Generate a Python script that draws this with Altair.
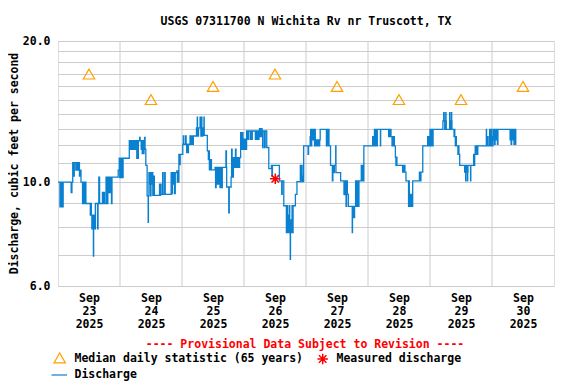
import altair as alt
import pandas as pd

FONT = "DejaVu Sans Mono"
TITLE = "USGS 07311700 N Wichita Rv nr Truscott, TX"
Y_TITLE = "Discharge, cubic feet per second"
NOTE = "---- Provisional Data Subject to Revision ----"
LEG_MEDIAN = "Median daily statistic (65 years)"
LEG_MEASURED = "Measured discharge"
LEG_DISCHARGE = "Discharge"

BLUE = "#0a80d0"
ORANGE = "#ffa000"
RED = "#ff0000"
GRID = "#cccccc"

# hours since 2025-09-23 00:00 (local) at which the 15-min discharge changes level
hours = [
    0.0, 0.75, 1.0, 1.5, 2.0, 5.1, 5.4, 5.7, 6.0, 6.3, 6.9, 7.1, 7.4, 7.6, 7.9, 8.1, 8.3, 8.5, 8.9,
    9.5, 9.8, 10.1, 10.4, 10.8, 12.5, 12.7, 12.9, 13.1, 13.3, 13.5, 13.7, 13.8, 14.0, 14.2, 14.45,
    15.3, 15.5, 15.8, 16.1, 17.2, 17.4, 17.8, 18.0, 18.6, 18.8, 19.3, 19.5, 19.7, 19.9, 20.1, 20.3,
    20.5, 20.7, 20.9, 23.3, 23.7, 23.9, 24.1, 24.3, 24.6, 25.0, 25.2, 27.6, 27.8, 28.0, 28.2, 28.4,
    28.6, 29.0, 29.3, 29.6, 29.8, 30.3, 30.5, 30.7, 30.9, 31.1, 31.6, 31.8, 32.2, 32.4, 32.6, 32.8,
    33.0, 33.3, 33.5, 33.7, 34.0, 34.5, 34.9, 35.0, 35.2, 35.4, 35.6, 35.8, 36.0, 36.2, 36.5, 36.7,
    37.1, 37.3, 39.3, 39.5, 39.7, 39.9, 40.5, 40.7, 41.3, 41.5, 43.8, 44.0, 44.3, 44.6, 44.8, 45.1,
    45.4, 46.0, 46.2, 46.4, 46.6, 46.8, 47.1, 47.3,
    48.3, 48.5, 48.7, 49.4, 49.6, 49.8, 50.0, 50.2, 50.5, 51.1, 51.3, 51.7, 51.9, 52.4, 53.6, 53.8,
    53.9, 54.0, 54.2, 54.4, 55.0, 55.1, 55.3, 55.5, 55.6, 55.7, 55.9, 56.1, 56.4, 56.5, 56.6, 57.8,
    58.2, 58.4, 58.6, 58.8, 59.0, 59.2, 59.4, 60.8, 61.0, 61.2, 61.7, 61.9, 62.1, 62.3, 62.7, 62.9,
    63.4, 63.6, 65.0, 65.2, 65.3, 66.1, 66.3, 67.0, 67.2, 67.4, 67.9, 68.1, 68.3, 68.5, 68.7, 68.9,
    69.1, 69.4, 69.7, 70.0, 70.3, 70.7, 70.9, 71.1, 71.4, 71.6, 71.8, 72.0, 72.2, 72.4,
    72.6, 72.8, 73.0, 73.2, 73.5, 73.6, 73.8, 74.5, 74.8, 75.0, 75.2, 76.4, 76.6, 77.0, 77.2, 77.7,
    77.8, 78.0, 78.2, 78.4, 78.6, 78.8, 79.0, 79.2, 79.4, 80.0, 80.2, 80.8, 81.6, 82.6, 82.8, 83.0,
    85.7, 86.6, 86.8, 87.4, 88.4, 88.6, 88.8, 89.0, 89.2, 89.5, 89.7, 89.9, 90.0, 90.2, 90.4, 90.6,
    90.8, 91.0, 91.9, 92.5, 93.8, 94.0, 94.3, 94.5, 94.8, 95.1,
    96.8, 97.0, 97.6, 97.8, 98.0, 98.2, 98.5, 98.6, 98.8, 99.0, 99.3, 99.5, 99.6, 99.8, 100.0,
    100.3, 100.6, 101.0, 101.3, 101.5, 103.9, 104.1, 104.5, 104.7, 104.9, 105.5, 106.2, 106.4,
    106.6, 107.0, 107.5, 107.6, 109.4, 110.7, 110.9, 111.1, 111.3, 111.5, 111.7, 112.0, 112.4,
    113.9, 114.0, 114.2, 114.4, 114.6, 114.8, 115.2, 115.4, 115.9, 116.1, 116.5, 117.4, 117.6,
    117.8, 118.0, 118.4,
    121.8, 122.1, 122.3, 122.5, 122.6, 122.8, 123.0, 123.1, 123.2, 123.4, 123.6, 124.8, 124.9,
    128.0, 128.2, 128.4, 128.6, 128.9, 129.3, 129.5, 129.8, 130.0, 130.2, 130.6, 130.8, 131.0,
    131.2, 133.4, 133.6, 133.8, 134.0, 134.3, 134.7, 135.7, 135.8, 136.0, 136.2, 136.4, 136.6,
    136.8, 137.0, 137.3, 139.9, 140.1, 140.5, 141.2, 143.1, 143.3, 143.5, 143.7, 144.0,
    144.2, 144.4, 144.6, 144.8, 145.0, 145.2, 149.0, 149.3, 149.5, 149.7, 149.9, 150.1, 150.2,
    150.3, 151.6, 151.7, 151.9, 152.1, 152.3, 152.4, 152.5, 153.3, 153.5, 153.6, 153.8, 154.0,
    154.2, 154.8, 155.0, 155.2, 155.5, 157.4, 157.6, 157.8, 157.9, 158.1, 158.3, 158.5, 158.6,
    158.7, 159.7, 159.8, 160.9, 161.1, 161.3, 161.5, 161.7, 162.0, 162.2, 162.5, 165.8, 165.9,
    166.1, 166.3, 166.5, 167.1, 167.2, 167.4, 167.7, 167.8, 168.0, 168.4, 168.6, 168.8, 169.0,
    169.2, 169.4, 169.6, 170.1, 170.3, 175.0, 175.2, 175.4, 175.6, 175.9, 176.1, 176.5, 176.7,
    177.2, 177.4,
]

discharge = [
    10.0, 8.85, 10.0, 8.85, 10.0, 9.5, 10.0, 11.0, 10.3, 11.0, 10.6, 11.0, 10.6, 11.0, 10.6, 11.0, 10.3, 10.6, 10.0,
    9.0, 10.0, 9.0, 10.0, 9.0, 8.5, 9.0, 8.5, 7.95, 8.5, 7.95, 6.95, 7.95, 8.5, 7.95, 9.0,
    7.95, 9.0, 10.25, 9.0, 9.5, 9.0, 9.5, 9.0, 10.25, 9.0, 10.25, 9.5, 10.25, 9.5, 10.25, 9.5,
    10.25, 9.0, 10.25, 10.6, 11.24, 10.22, 11.24, 10.22, 11.24, 10.22, 11.24, 12.25, 11.75, 12.25, 11.75, 12.25,
    11.75, 12.25, 11.75, 12.25, 11.75, 12.25, 11.24, 12.25, 11.24, 12.25, 12.45, 12.25, 11.75, 12.25, 11.5, 12.25,
    11.5, 12.25, 12.45, 11.75, 10.85, 9.34, 8.2, 9.34, 10.47, 9.9, 10.47, 9.34, 10.47, 9.9, 10.47, 9.37,
    10.3, 9.37, 9.9, 9.37, 9.9, 9.41, 10.47, 9.41, 10.47, 9.41, 10.47, 9.45, 10.47, 9.9, 10.47, 9.45,
    10.47, 10.56, 10.0, 10.56, 10.0, 11.46, 10.9, 11.46,
    12.04, 12.54, 12.04, 12.54, 12.04, 11.56, 12.04, 11.56, 12.04, 12.54, 12.04, 12.54, 12.04, 12.54, 13.05, 12.54,
    13.75, 13.05, 12.54, 13.05, 13.75, 13.05, 12.54, 13.05, 13.75, 13.05, 12.54, 13.05, 12.58, 13.75, 12.58, 11.65,
    11.17, 11.65, 10.62, 11.17, 10.62, 11.17, 10.62, 10.75, 9.73, 10.75, 9.9, 10.75, 9.9, 10.75, 9.73, 10.75,
    9.73, 10.75, 11.65, 10.75, 9.76, 8.6, 9.76, 10.25, 11.75, 10.25, 11.27, 10.75, 11.27, 10.75, 11.75, 10.75,
    11.27, 10.75, 11.27, 10.75, 11.27, 12.75, 12.34, 11.75, 12.75, 11.75, 12.34, 11.75, 12.34, 11.75,
    12.34, 11.75, 12.85, 12.34, 12.85, 12.34, 12.85, 12.34, 12.85, 12.34, 12.85, 12.34, 12.85, 12.34, 12.85, 12.34,
    12.85, 13.0, 12.5, 13.0, 12.5, 13.0, 12.85, 11.85, 12.85, 11.85, 12.85, 11.85, 10.68, 10.85, 10.3, 10.85,
    10.06, 9.41, 10.06, 8.9, 7.8, 8.9, 7.8, 8.5, 7.8, 8.9, 7.8, 6.84, 7.8, 8.3, 7.8, 8.9,
    7.8, 8.9, 9.41, 10.02, 10.85, 10.02, 10.85, 10.3, 10.02, 11.94,
    11.46, 11.94, 12.5, 12.96, 11.94, 12.5, 12.96, 12.3, 12.96, 12.3, 11.94, 12.96, 12.3, 11.94, 12.3,
    11.94, 12.3, 11.94, 12.3, 12.96, 11.94, 12.96, 11.94, 12.96, 11.94, 10.85, 10.06, 10.85,
    10.47, 10.85, 11.94, 10.47, 10.06, 9.41, 10.06, 9.4, 10.06, 8.87, 10.06, 9.41, 8.87,
    7.8, 8.87, 8.4, 8.87, 8.4, 8.87, 10.06, 8.87, 10.06, 8.87, 10.06, 10.85, 10.06,
    10.85, 10.06, 11.94,
    12.5, 11.94, 12.5, 12.96, 12.5, 11.94, 12.5, 12.96, 12.5, 11.94, 12.96, 11.94, 12.96,
    12.5, 12.96, 12.5, 12.96, 12.5, 11.94, 12.5, 11.94, 12.5, 11.94, 11.3, 10.85, 11.3,
    10.85, 10.5, 10.85, 10.5, 10.85, 10.5, 10.06, 8.87, 10.06, 9.41, 8.87, 9.41, 8.87,
    9.41, 8.87, 10.06, 10.5, 10.06, 10.5, 11.94, 12.5, 11.94, 12.5, 11.94, 12.96,
    12.5, 11.94, 12.96, 12.5, 11.94, 12.96, 13.5, 14.06, 13.5, 12.96, 13.5, 14.06, 13.5,
    12.96, 14.06, 13.5, 12.96, 13.5, 14.06, 13.5, 12.96, 12.5, 12.96, 12.5, 11.94, 12.5,
    11.94, 11.46, 11.94, 11.46, 10.85, 10.5, 10.85, 10.06, 10.85, 10.5, 10.85, 10.06, 10.5,
    10.85, 10.06, 10.85, 11.46, 10.85, 11.46, 11.94, 11.46, 11.94, 11.46, 11.94, 12.96, 12.5,
    11.94, 12.5, 11.94, 12.96, 12.5, 11.94, 12.96, 12.5, 11.94, 12.96, 12.3, 12.96, 12.04,
    12.96, 12.3, 12.96, 12.04, 12.96, 12.3, 12.96, 12.04, 12.96, 12.3, 12.96, 12.04, 12.96,
    12.04, 12.04,
]

median_times = ["2025-09-23T12:00:00", "2025-09-24T12:00:00", "2025-09-25T12:00:00",
                "2025-09-26T12:00:00", "2025-09-27T12:00:00", "2025-09-28T12:00:00",
                "2025-09-29T12:00:00", "2025-09-30T12:00:00"]
median_values = [17, 15, 16, 17, 16, 15, 15, 16]

measured_times = ["2025-09-26T12:06:00"]
measured_values = [10.16]

grid_times = ["2025-09-24T00:00:00", "2025-09-25T00:00:00", "2025-09-26T00:00:00",
              "2025-09-27T00:00:00", "2025-09-28T00:00:00", "2025-09-29T00:00:00",
              "2025-09-30T00:00:00"]

label_days = [23, 24, 25, 26, 27, 28, 29, 30]
y_values = [6, 7, 8, 9, 10, 11, 12, 13, 14, 15, 16, 17, 18, 19, 20]

STAR = "M-1,0L1,0M0,-1L0,1M-0.71,-0.71L0.71,0.71M-0.71,0.71L0.71,-0.71"

start = pd.Timestamp("2025-09-23 00:00:00")
flow_df = pd.DataFrame({
    "time": [(start + pd.Timedelta(hours=h)).strftime("%Y-%m-%dT%H:%M:%S") for h in hours],
    "q": discharge,
})
median_df = pd.DataFrame({"time": median_times, "q": median_values})
measured_df = pd.DataFrame({"time": measured_times, "q": measured_values})
grid_df = pd.DataFrame({"time": grid_times})
one = pd.DataFrame({"k": [0]})

x_scale = alt.Scale(domain=[alt.DateTime(year=2025, month=9, date=23, hours=0),
                            alt.DateTime(year=2025, month=10, date=1, hours=0)])
y_scale = alt.Scale(type="log", domain=[6, 20], nice=False)

x_axis = alt.Axis(
    values=[alt.DateTime(year=2025, month=9, date=d, hours=12) for d in label_days],
    labelExpr="[timeFormat(datum.value, '%b'), timeFormat(datum.value, '%d'), timeFormat(datum.value, '%Y')]",
    grid=False, ticks=False, domain=False, title=None,
    labelFont=FONT, labelFontSize=11.5, labelFontWeight="bold", labelColor="black",
    labelLineHeight=13, labelPadding=6, labelBaseline="top", labelFlush=False,
    labelOverlap=False,
)
y_axis = alt.Axis(
    values=y_values,
    labelExpr="(datum.value == 6 || datum.value == 10 || datum.value == 20) ? format(datum.value, '.1f') : ''",
    grid=True, gridColor=GRID, gridWidth=1, ticks=False, domain=False,
    labelFont=FONT, labelFontSize=11.5, labelFontWeight="bold", labelColor="black",
    labelPadding=8, labelOverlap=False, labelFlush=False,
    title=Y_TITLE, titleFont=FONT, titleFontSize=11.5, titleFontWeight="bold", titleColor="black",
    titleX=-44, titleY=122, titleAngle=270, titleAlign="center", titleBaseline="middle",
)

x_enc = alt.X("time:T", scale=x_scale, axis=x_axis)
y_enc = alt.Y("q:Q", scale=y_scale, axis=y_axis)

vgrid = alt.Chart(grid_df).mark_rule(color=GRID, strokeWidth=1).encode(
    x=alt.X("time:T", scale=x_scale, axis=x_axis)
)

line = alt.Chart(flow_df).mark_line(color=BLUE, strokeWidth=1.3, interpolate="step-after").encode(
    x=x_enc, y=y_enc
)

medians = alt.Chart(median_df).mark_point(
    shape="triangle-up", filled=False, color=ORANGE, size=130, strokeWidth=1.2, opacity=1
).encode(x=x_enc, y=y_enc)

measured = alt.Chart(measured_df).mark_point(
    shape=STAR, filled=False, color=RED, size=110, strokeWidth=1.5, opacity=1
).encode(x=x_enc, y=y_enc)


def text(t, x, y, color="black", align="left"):
    return alt.Chart(one).mark_text(
        text=t, font=FONT, fontSize=11.5, fontWeight="bold", color=color,
        align=align, baseline="middle"
    ).encode(x=alt.value(x), y=alt.value(y))


title = text(TITLE, 248, -19, align="center")
note = text(NOTE, 247, 304, color=RED, align="center")
leg1_sym = alt.Chart(one).mark_point(
    shape="triangle-up", filled=False, color=ORANGE, size=130, strokeWidth=1.2, opacity=1
).encode(x=alt.value(1.7), y=alt.value(317))
leg1_txt = text(LEG_MEDIAN, 16.5, 318)
leg2_sym = alt.Chart(one).mark_point(
    shape=STAR, filled=False, color=RED, size=110, strokeWidth=1.5, opacity=1
).encode(x=alt.value(264.7), y=alt.value(318))
leg2_txt = text(LEG_MEASURED, 278.5, 318)
leg3_sym = alt.Chart(one).mark_rule(color=BLUE, strokeWidth=1.2).encode(
    x=alt.value(-6.5), x2=alt.value(9), y=alt.value(334)
)
leg3_txt = text(LEG_DISCHARGE, 16.5, 334)

chart = alt.layer(
    vgrid, line, medians, measured, title, note,
    leg1_sym, leg1_txt, leg2_sym, leg2_txt, leg3_sym, leg3_txt,
).properties(
    width=496, height=245,
    autosize=alt.AutoSizeParams(type="none"),
    padding={"left": 50, "top": 33, "right": 14, "bottom": 100},
).configure_view(stroke="black", strokeWidth=1).configure(background="white")

chart.save("out.html", embed_options={"renderer": "svg", "actions": False})
